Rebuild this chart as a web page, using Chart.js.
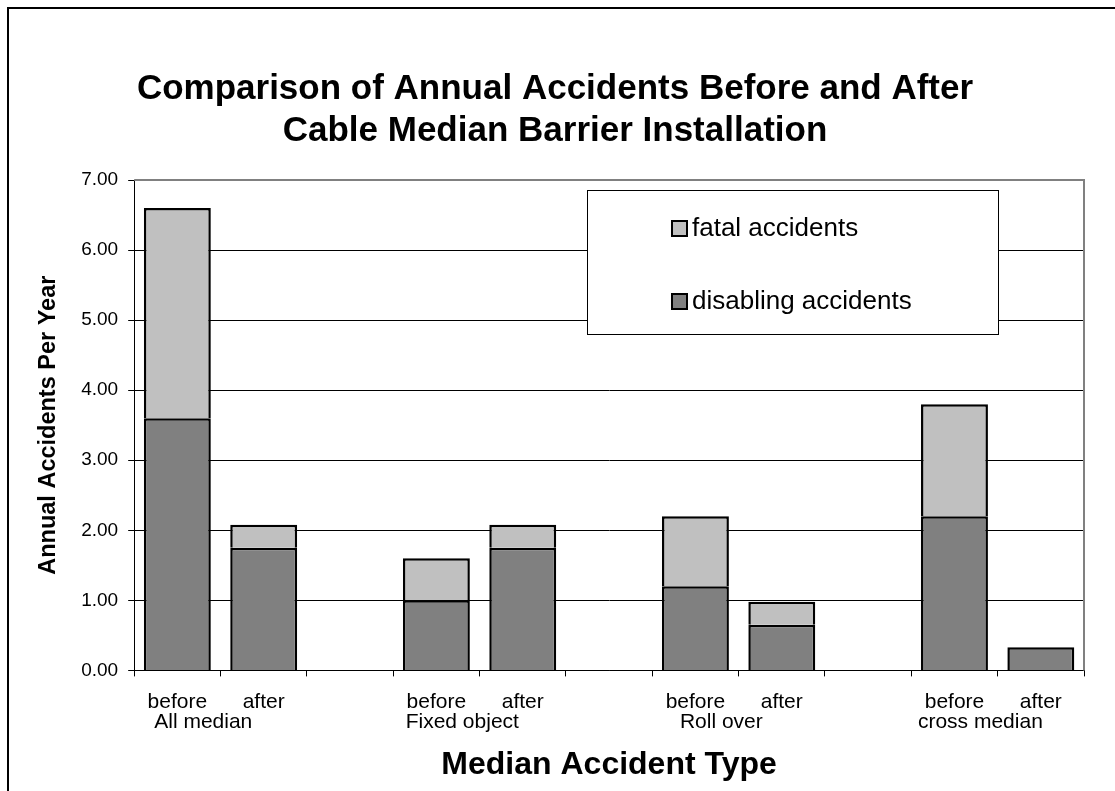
<!DOCTYPE html>
<html>
<head>
<meta charset="utf-8">
<script src="https://cdn.jsdelivr.net/npm/chart.js@4"></script>
<style>
  html, body { margin: 0; padding: 0; background: #fff; }
  #wrap { width: 1115px; height: 791px; }
</style>
</head>
<body>
<div id="wrap"><canvas id="chart"></canvas></div>
<script>
const categories = ["before", "after", "", "before", "after", "", "before", "after", "", "before", "after"];
const groupNames = ["All median", "Fixed object", "Roll over", "cross median"];
const groupStart = [0, 3, 6, 9];
const disabling = [3.6, 1.75, null, 1.0, 1.75, null, 1.2, 0.65, null, 2.2, 0.33];
const fatal = [3.0, 0.33, null, 0.6, 0.33, null, 1.0, 0.33, null, 1.6, 0];
const yTicks = [0, 1, 2, 3, 4, 5, 6, 7];

const FONT = "'Liberation Sans', Arial, sans-serif";

// frame, grey plot border, group labels and boxed legend
const extras = {
  id: "extras",
  afterDraw(chart) {
    const ctx = chart.ctx;
    const a = chart.chartArea;
    const x = chart.scales.x;
    ctx.save();

    ctx.strokeStyle = "#000";
    ctx.lineWidth = 2;
    ctx.beginPath();
    ctx.moveTo(8, 800);
    ctx.lineTo(8, 8);
    ctx.lineTo(1120, 8);
    ctx.stroke();

    ctx.strokeStyle = "#808080";
    ctx.lineWidth = 2;
    ctx.beginPath();
    ctx.moveTo(a.left, a.top);
    ctx.lineTo(a.right, a.top);
    ctx.lineTo(a.right, a.bottom);
    ctx.stroke();

    ctx.fillStyle = "#000";
    ctx.font = "21px " + FONT;
    ctx.textAlign = "center";
    ctx.textBaseline = "middle";
    const w = x.getPixelForValue(1) - x.getPixelForValue(0);
    groupNames.forEach((g, i) => {
      ctx.fillText(g, x.getPixelForValue(groupStart[i]) + w * 0.3, a.bottom + 52);
    });

    const bx = a.right - 497, by = a.top + 10, bw = 411, bh = 144;
    ctx.fillStyle = "#fff";
    ctx.fillRect(bx, by, bw, bh);
    ctx.strokeStyle = "#000";
    ctx.lineWidth = 1;
    ctx.strokeRect(bx + 0.5, by + 0.5, bw, bh);
    const items = [chart.data.datasets[1], chart.data.datasets[0]];
    items.forEach((d, i) => {
      const cy = by + 39 + i * 73;
      ctx.fillStyle = d.backgroundColor;
      ctx.fillRect(bx + 85, cy - 8, 15, 15);
      ctx.lineWidth = 2;
      ctx.strokeRect(bx + 85, cy - 8, 15, 15);
      ctx.fillStyle = "#000";
      ctx.font = "26px " + FONT;
      ctx.textAlign = "left";
      ctx.fillText(d.label, bx + 105, cy);
    });
    ctx.restore();
  }
};

new Chart(document.getElementById("chart"), {
  type: "bar",
  data: {
    labels: categories,
    datasets: [
      { label: "disabling accidents", data: disabling, backgroundColor: "#808080", borderColor: "#000", borderWidth: 2.5 },
      { label: "fatal accidents", data: fatal, backgroundColor: "#C0C0C0", borderColor: "#000", borderWidth: 2.5 }
    ]
  },
  options: {
    responsive: true,
    maintainAspectRatio: false,
    animation: false,
    devicePixelRatio: 1,
    datasets: { bar: { categoryPercentage: 1, barPercentage: 0.775 } },
    layout: { padding: { left: 26, right: 31, top: 0, bottom: 7 } },
    plugins: {
      legend: { display: false },
      tooltip: { enabled: false },
      title: {
        display: true,
        text: ["Comparison of Annual Accidents Before and After", "Cable Median Barrier Installation"],
        color: "#000",
        font: { family: FONT, size: 35, weight: "bold", lineHeight: 1.2 },
        padding: { top: 68, bottom: 28 }
      }
    },
    scales: {
      x: {
        stacked: true,
        grid: { offset: true, drawOnChartArea: false, drawTicks: true, tickLength: 6, color: "#000" },
        border: { color: "#000", width: 1 },
        ticks: { color: "#000", font: { family: FONT, size: 21 }, padding: 13, maxRotation: 0, autoSkip: false },
        title: {
          display: true,
          text: "Median Accident Type",
          color: "#000",
          font: { family: FONT, size: 32, weight: "bold" },
          padding: { top: 18, bottom: 0 }
        }
      },
      y: {
        stacked: true,
        min: 0,
        max: 7,
        afterBuildTicks: s => { s.ticks = yTicks.map(v => ({ value: v })); },
        grid: { color: "#000", tickLength: 6, drawTicks: true },
        border: { color: "#000", width: 1 },
        ticks: { color: "#000", font: { family: FONT, size: 19 }, padding: 10, callback: v => Number(v).toFixed(2) },
        title: {
          display: true,
          text: "Annual Accidents Per Year",
          color: "#000",
          font: { family: FONT, size: 23.5, weight: "bold" },
          padding: { top: 8, bottom: 9 }
        }
      }
    }
  },
  plugins: [extras]
});
</script>
</body>
</html>
